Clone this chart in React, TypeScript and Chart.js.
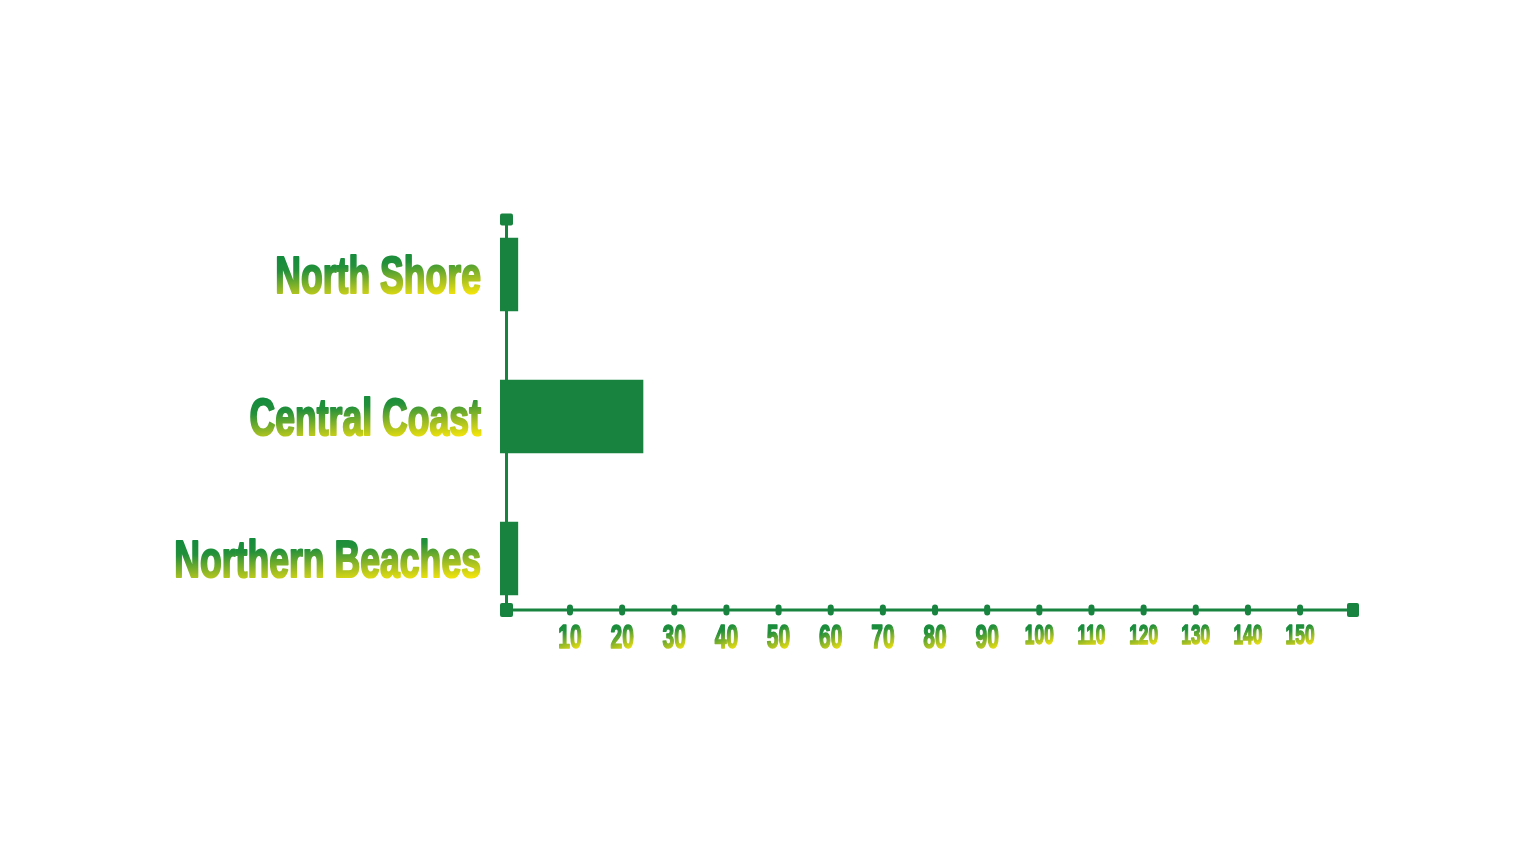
import React, { useEffect, useRef } from 'react';
import { Chart, registerables } from 'chart.js';

Chart.register(...registerables);

// ---- data ----
const categories: string[] = ['North Shore', 'Central Coast', 'Northern Beaches'];
const values: number[] = [0, 24, 0];
const xTickValues: number[] = [10, 20, 30, 40, 50, 60, 70, 80, 90, 100, 110, 120, 130, 140, 150];
const X_MIN = -3.42;
const X_MAX = 161.3;

// ---- styles ----
const GREEN = '#17833f';
const TEXT_STOPS: [number, string][] = [
  [0, '#118a3d'],
  [0.3, '#23903a'],
  [0.68, '#9cbc24'],
  [1, '#f4e40b'],
];
const GRAD_U = 0.3; // horizontal weight of the text gradient
const GRAD_V = 0.7; // vertical weight of the text gradient
const FONT_FAMILY = '"Liberation Sans", Arial, "DejaVu Sans", sans-serif';

function boxGradient(ctx: CanvasRenderingContext2D, l: number, t: number, w: number, h: number) {
  const ax = GRAD_U / w;
  const ay = GRAD_V / h;
  const n = ax * ax + ay * ay;
  const g = ctx.createLinearGradient(l, t, l + ax / n, t + ay / n);
  TEXT_STOPS.forEach(([o, c]) => g.addColorStop(o, c));
  return g;
}

function drawCondensedText(
  ctx: CanvasRenderingContext2D,
  text: string,
  anchorX: number,
  baselineY: number,
  size: number,
  scaleX: number,
  align: 'right' | 'center',
  strokeW: number
) {
  ctx.save();
  ctx.font = `bold ${size}px ${FONT_FAMILY}`;
  const natural = ctx.measureText(text).width;
  const w = natural * scaleX;
  const capH = size * 0.716;
  const left = align === 'right' ? anchorX - w : anchorX - w / 2;
  ctx.translate(left, 0);
  ctx.scale(scaleX, 1);
  const grad = boxGradient(ctx, 0, baselineY - capH, natural, capH);
  ctx.fillStyle = grad;
  ctx.strokeStyle = grad;
  ctx.lineWidth = strokeW;
  ctx.lineJoin = 'round';
  ctx.textAlign = 'left';
  ctx.textBaseline = 'alphabetic';
  ctx.fillText(text, 0, baselineY);
  if (strokeW > 0) ctx.strokeText(text, 0, baselineY);
  ctx.restore();
}

const axesPlugin = {
  id: 'customAxes',
  afterDatasetsDraw(chart: any) {
    const ctx: CanvasRenderingContext2D = chart.ctx;
    const area = chart.chartArea;
    const xScale = chart.scales.x;
    const yScale = chart.scales.y;
    const axisX = area.left + 6.5;
    const axisY = area.bottom - 19.5;
    const topY = area.top + 16;
    const rightX = area.right - 6;

    ctx.save();
    ctx.strokeStyle = GREEN;
    ctx.fillStyle = GREEN;
    ctx.lineWidth = 3;
    ctx.beginPath();
    ctx.moveTo(axisX, topY);
    ctx.lineTo(axisX, axisY);
    ctx.moveTo(axisX, axisY);
    ctx.lineTo(rightX, axisY);
    ctx.stroke();

    const sq = (cx: number, cy: number, w: number, h: number) => {
      ctx.beginPath();
      (ctx as any).roundRect(cx - w / 2, cy - h / 2, w, h, 2);
      ctx.fill();
    };
    sq(axisX, topY, 13, 12);
    sq(axisX, axisY, 13, 14);
    sq(rightX, axisY, 12, 14);

    xScale.ticks.forEach((t: any) => {
      const px = xScale.getPixelForValue(t.value);
      ctx.beginPath();
      (ctx as any).roundRect(px - 3, axisY - 5.5, 6, 11, 3);
      ctx.fill();
    });
    ctx.restore();

    // x tick labels
    xScale.ticks.forEach((t: any) => {
      const px = xScale.getPixelForValue(t.value);
      const label = String(t.value);
      const size = label.length >= 3 ? 28 : 34;
      const top = axisY + 14;
      drawCondensedText(ctx, label, px, top + size * 0.716, size, 0.62, 'center', 1.6);
    });

    // y category labels
    yScale.ticks.forEach((t: any, i: number) => {
      const py = yScale.getPixelForTick(i);
      const label = yScale.getLabelForValue(t.value);
      const size = 52;
      drawCondensedText(ctx, label, area.left - 19, py + (size * 0.716) / 2, size, 0.685, 'right', 2.2);
    });
  },
};

export default function App() {
  const canvasRef = useRef<HTMLCanvasElement | null>(null);

  useEffect(() => {
    if (!canvasRef.current) return;
    const chart = new Chart(canvasRef.current, {
      type: 'bar',
      data: {
        labels: categories,
        datasets: [
          {
            data: values,
            backgroundColor: GREEN,
            borderWidth: 0,
            barThickness: 73,
            base: X_MIN,
          } as any,
        ],
      },
      options: {
        indexAxis: 'y',
        animation: false,
        responsive: true,
        maintainAspectRatio: false,
        layout: { padding: { left: 492, right: 169, top: 195.5, bottom: 226.5 } },
        plugins: { legend: { display: false }, tooltip: { enabled: false } },
        scales: {
          x: {
            type: 'linear',
            min: X_MIN,
            max: X_MAX,
            display: false,
            afterBuildTicks: (scale: any) => {
              scale.ticks = xTickValues.map((v) => ({ value: v }));
            },
          },
          y: {
            type: 'category',
            display: false,
            offset: true,
          },
        },
      },
      plugins: [axesPlugin],
    });
    return () => chart.destroy();
  }, []);

  return (
    <div style={{ position: 'relative', width: '1520px', height: '848px' }}>
      <canvas ref={canvasRef} />
    </div>
  );
}
